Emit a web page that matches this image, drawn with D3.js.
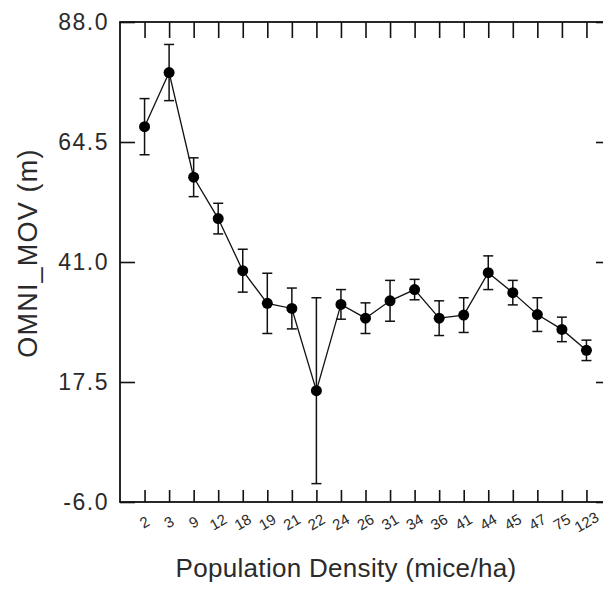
<!DOCTYPE html>
<html>
<head>
<meta charset="utf-8">
<script src="https://cdn.jsdelivr.net/npm/d3@7"></script>
<style>
  body { margin: 0; background: #fff; }
  text { font-family: 'Liberation Sans', Arial, sans-serif; fill: #2a2a2a; }
</style>
</head>
<body>
<div id="chart"></div>
<script>
// data
const densities = ['2', '3', '9', '12', '18', '19', '21', '22', '24', '26', '31', '34', '36', '41', '44', '45', '47', '75', '123']
const meanMov = [67.5, 78.1, 57.6, 49.5, 39.3, 32.9, 31.9, 15.8, 32.7, 30.0, 33.4, 35.6, 30.0, 30.6, 38.9, 35.0, 30.7, 27.8, 23.7]
const errMov = [5.5, 5.5, 3.8, 3.0, 4.2, 5.9, 4.0, 18.2, 2.9, 3.0, 4.0, 2.0, 3.4, 3.4, 3.3, 2.4, 3.3, 2.4, 2.0]
const yTicks = [-6.0, 17.5, 41.0, 64.5, 88.0]

const svgWidth = 603,
  svgHeight = 590
const margin = { top: 22, right: -8, bottom: 88, left: 120 }
const width = svgWidth - margin.left - margin.right
const height = svgHeight - margin.top - margin.bottom

const svg = d3
  .select('#chart')
  .append('svg')
  .attr('width', svgWidth)
  .attr('height', svgHeight)

const g = svg.append('g').attr('transform', 'translate(' + margin.left + ',' + margin.top + ')')

const x = d3.scalePoint().domain(densities).range([0, width]).padding(1)
const y = d3.scaleLinear().domain([-6, 88]).range([height, 0])

const data = densities.map((d, i) => ({ cat: d, v: meanMov[i], e: errMov[i] }))

// frame
g.append('rect')
  .attr('x', 0)
  .attr('y', 0)
  .attr('width', width)
  .attr('height', height)
  .attr('fill', 'none')
  .attr('stroke', '#111')
  .attr('stroke-width', 1.8)

// axes, ticks pointing inside
g.append('g')
  .attr('transform', 'translate(0,' + height + ')')
  .call(d3.axisBottom(x).tickSize(-12).tickFormat(''))
  .call((a) => a.select('.domain').remove())
g.append('g')
  .call(d3.axisTop(x).tickSize(-16).tickFormat(''))
  .call((a) => a.select('.domain').remove())
g.append('g')
  .call(d3.axisLeft(y).tickValues(yTicks).tickSize(-15).tickFormat(''))
  .call((a) => a.select('.domain').remove())
g.append('g')
  .attr('transform', 'translate(' + width + ',0)')
  .call(d3.axisRight(y).tickValues(yTicks).tickSize(-15).tickFormat(''))
  .call((a) => a.select('.domain').remove())
g.selectAll('.tick line').attr('stroke', '#111').attr('stroke-width', 1.6)

// y tick labels
g.selectAll('.ylab')
  .data(yTicks)
  .enter()
  .append('text')
  .attr('class', 'ylab')
  .attr('x', -11)
  .attr('y', (d) => y(d))
  .attr('dy', '0.35em')
  .attr('text-anchor', 'end')
  .style('font-size', '23px')
  .style('letter-spacing', '1.5px')
  .text((d) => d.toFixed(1))

// x tick labels, tilted
g.selectAll('.xlab')
  .data(densities)
  .enter()
  .append('text')
  .attr('class', 'xlab')
  .attr('transform', (d) => 'translate(' + x(d) + ',' + (height + 20) + ') rotate(-30)')
  .attr('text-anchor', 'middle')
  .attr('dy', '0.35em')
  .style('font-size', '15px')
  .text((d) => d)

// axis titles
svg.append('text')
  .attr('x', 346)
  .attr('y', 577)
  .attr('text-anchor', 'middle')
  .style('font-size', '26px')
  .style('letter-spacing', '0.3px')
  .text('Population Density (mice/ha)')

svg.append('text')
  .attr('transform', 'translate(37,253) rotate(-90)')
  .attr('text-anchor', 'middle')
  .style('font-size', '27px')
  .style('letter-spacing', '1.2px')
  .text('OMNI_MOV (m)')

// line
g.append('path')
  .datum(data)
  .attr('d', d3.line().x((d) => x(d.cat)).y((d) => y(d.v)))
  .attr('fill', 'none')
  .attr('stroke', '#111')
  .attr('stroke-width', 1.3)

// error bars
const eb = g.selectAll('.err').data(data).enter().append('g').attr('class', 'err')
eb.append('line')
  .attr('x1', (d) => x(d.cat))
  .attr('x2', (d) => x(d.cat))
  .attr('y1', (d) => y(d.v + d.e))
  .attr('y2', (d) => y(d.v - d.e))
eb.append('line')
  .attr('x1', (d) => x(d.cat) - 5)
  .attr('x2', (d) => x(d.cat) + 5)
  .attr('y1', (d) => y(d.v + d.e))
  .attr('y2', (d) => y(d.v + d.e))
eb.append('line')
  .attr('x1', (d) => x(d.cat) - 5)
  .attr('x2', (d) => x(d.cat) + 5)
  .attr('y1', (d) => y(d.v - d.e))
  .attr('y2', (d) => y(d.v - d.e))
eb.selectAll('line').attr('stroke', '#111').attr('stroke-width', 1.5)

// points
g.selectAll('.pt')
  .data(data)
  .enter()
  .append('circle')
  .attr('class', 'pt')
  .attr('cx', (d) => x(d.cat))
  .attr('cy', (d) => y(d.v))
  .attr('r', 5.5)
  .attr('fill', '#000')
</script>
</body>
</html>
